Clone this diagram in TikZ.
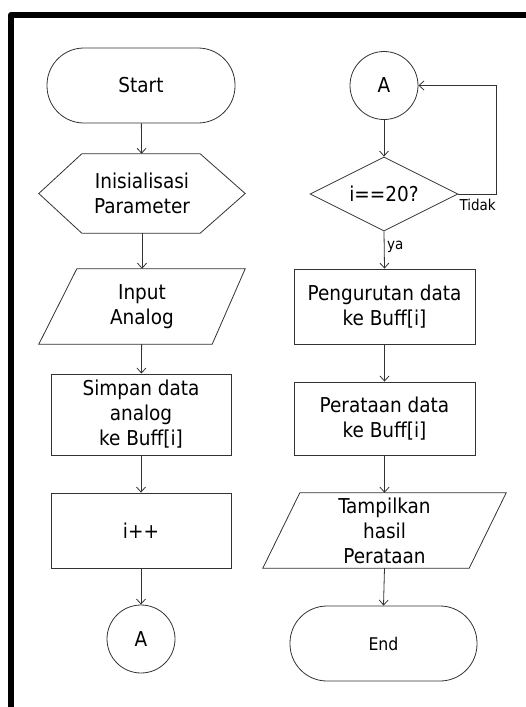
\documentclass[tikz,border=0pt]{standalone}
\usepackage{fontspec}
\setmainfont{DejaVu Sans Condensed}
\usetikzlibrary{arrows.meta,shapes.geometric,calc}
\begin{document}
\begin{tikzpicture}[x=1pt,y=-1pt,
  ln/.style={draw=black!80, line width=0.8pt},
  arr/.style={ln, -{Straight Barb[length=5pt,width=9pt]}},
  txt/.style={font=\fontsize{20.5}{25}\selectfont, align=center, inner sep=0pt},
  smalltxt/.style={font=\fontsize{15}{18}\selectfont, inner sep=0pt},
  procbox/.style={txt, ln, rectangle},
  term/.style={txt, ln, rectangle, rounded corners=37pt},
  conn/.style={txt, ln, circle, minimum size=68pt},
  plain/.style={txt, rectangle}
]
\useasboundingbox (0,0) rectangle (526,707);
% border
\draw[line width=6pt, line join=round] (11,707) -- (11,15) -- (526,15);

% left column
\node[term, minimum width=188pt, minimum height=75pt] (start) at (141,85.5) {Start};
\node[plain, minimum width=206pt, minimum height=79pt] (init) at (142,193.5) {Inisialisasi\\Parameter};
\draw[ln] ([xshift=43pt]init.north west) -- ([xshift=-45pt]init.north east) -- (init.east)
  -- ([xshift=-45pt]init.south east) -- ([xshift=43pt]init.south west) -- (init.west) -- cycle;
\node[plain, minimum width=206pt, minimum height=75pt] (input) at (142,306.5) {Input\\Analog};
\draw[ln] ([xshift=38pt]input.north west) -- (input.north east)
  -- ([xshift=-33pt]input.south east) -- (input.south west) -- cycle;
\node[procbox, minimum width=180pt, minimum height=81pt] (simpan) at (141,414.5) {Simpan data\\analog\\ke Buff[i]};
\node[procbox, minimum width=180pt, minimum height=75pt] (ipp) at (141,530.5) {i++};
\node[conn] (A1) at (141,639) {A};

% right column
\node[conn] (A2) at (384,85.5) {A};
\node[txt, ln, diamond, minimum width=148pt, minimum height=74pt, aspect=2] (dia) at (384,194) {i==20?};
\node[procbox, minimum width=181pt, minimum height=75pt] (peng) at (384.5,306.5) {Pengurutan data\\ke Buff[i]};
\node[procbox, minimum width=181pt, minimum height=73pt] (perat) at (384.5,418.5) {Perataan data\\ke Buff[i]};
\node[plain, minimum width=243pt, minimum height=75pt] (tamp) at (384.5,530.5) {Tampilkan\\hasil\\Perataan};
\draw[ln] ([xshift=37pt]tamp.north west) -- (tamp.north east)
  -- ([xshift=-37pt]tamp.south east) -- (tamp.south west) -- cycle;
\node[term, font=\fontsize{17.5}{22}\selectfont, minimum width=187pt, minimum height=75pt] (end) at (383.5,643.5) {End};

% connectors
\draw[arr] (start) -- (init);
\draw[arr] (init) -- (input);
\draw[arr] (input) -- (simpan);
\draw[arr] (simpan) -- (ipp);
\draw[arr] (ipp) -- (A1);
\draw[arr] (A2) -- (dia);
\draw[arr] (dia.south) -- (peng.north);
\draw[arr] (peng) -- (perat);
\draw[arr] (perat.south) -- (tamp.north);
\draw[arr] (tamp.south) -- (end.north);
\coordinate (loopc) at ($(dia.east)+(38,0)$);
\draw[arr] (dia.east) -- (loopc) |- (A2.east);

% labels
\node[smalltxt, anchor=north west] (tidak) at ($(dia.east)+(1,5)$) {Tidak};
\node[smalltxt, anchor=west] (ya) at (387,247) {ya};
\end{tikzpicture}
\end{document}
